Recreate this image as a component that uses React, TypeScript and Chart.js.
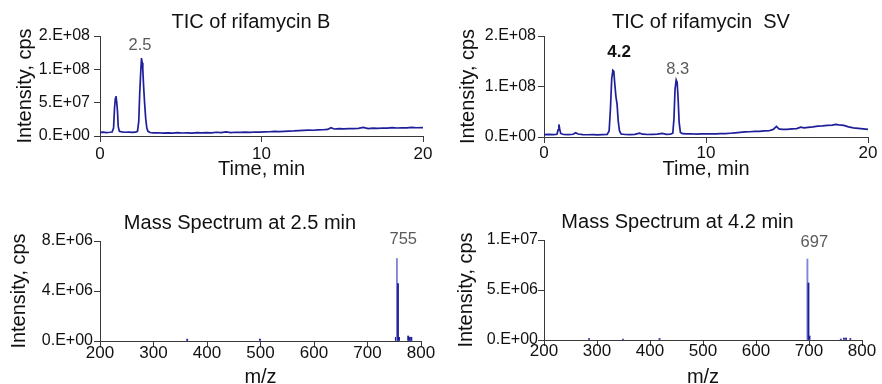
import React, { useEffect, useRef } from 'react';
import { Chart, registerables } from 'chart.js';

Chart.register(...registerables);

const FONT = "'Liberation Sans', Arial, Helvetica, sans-serif";
const TRACE = '#1f1f9a';
const TRACE_LIGHT = '#8086d6';
const AXIS = '#3a3a3a';
const TEXT = '#111111';
const NOTE_GRAY = '#5a5a5a';

// ---------- TIC of rifamycin B ----------
const ticBTime = [0, 0.2, 0.4, 0.6, 0.75, 0.84, 0.9, 0.95, 0.99, 1.03, 1.08, 1.13, 1.2, 1.35, 1.55, 1.8, 2.0, 2.2, 2.32, 2.4, 2.46, 2.52, 2.57, 2.61, 2.65, 2.7, 2.76, 2.83, 2.9, 2.97, 3.1, 3.3, 3.6, 3.9, 4.2, 4.5, 4.8, 5.1, 5.4, 5.7, 6.0, 6.3, 6.6, 6.9, 7.2, 7.5, 7.8, 8.1, 8.4, 8.7, 9.0, 9.3, 9.6, 9.9, 10.2, 10.5, 10.8, 11.1, 11.4, 11.7, 12.0, 12.3, 12.6, 12.9, 13.2, 13.5, 13.8, 14.1, 14.3, 14.5, 14.8, 15.1, 15.4, 15.7, 16.0, 16.3, 16.6, 16.9, 17.2, 17.5, 17.8, 18.1, 18.4, 18.7, 19.0, 19.3, 19.6, 20.0];
const ticBIntensity = [5.5e6, 5.8e6, 5.2e6, 5.6e6, 6.0e6, 1.2e7, 4.2e7, 5.6e7, 6.0e7, 5.2e7, 3.8e7, 1.4e7, 7.0e6, 6.2e6, 5.6e6, 5.8e6, 5.4e6, 5.7e6, 7.0e6, 2.2e7, 6.5e7, 9.5e7, 1.17e8, 1.1e8, 1.0e8, 7.5e7, 5.0e7, 2.6e7, 1.2e7, 7.0e6, 5.2e6, 4.6e6, 4.9e6, 4.4e6, 4.8e6, 4.3e6, 5.0e6, 4.5e6, 4.7e6, 4.4e6, 5.0e6, 4.6e6, 5.2e6, 4.8e6, 5.6e6, 5.0e6, 6.2e6, 5.2e6, 5.6e6, 5.4e6, 5.8e6, 5.5e6, 6.0e6, 5.8e6, 6.2e6, 6.4e6, 6.8e6, 6.6e6, 7.0e6, 7.4e6, 7.6e6, 8.0e6, 8.4e6, 8.8e6, 8.6e6, 9.2e6, 9.4e6, 9.8e6, 1.25e7, 1.05e7, 1.1e7, 1.08e7, 1.12e7, 1.1e7, 1.15e7, 1.3e7, 1.12e7, 1.18e7, 1.15e7, 1.2e7, 1.18e7, 1.25e7, 1.2e7, 1.24e7, 1.22e7, 1.28e7, 1.24e7, 1.25e7];
const ticBYTicks = [0, 5e7, 1e8, 1.5e8];
const ticBYLabels = ['0.E+00', '5.E+07', '1.E+08', '2.E+08'];
const ticBNotes = [{ text: '2.5', x: 2.48, y: 1.29e8 }];

// ---------- TIC of rifamycin SV ----------
const ticSVTime = [0, 0.3, 0.6, 0.8, 0.87, 0.92, 0.97, 1.03, 1.2, 1.5, 1.8, 1.95, 2.1, 2.4, 2.7, 3.0, 3.3, 3.6, 3.9, 4.02, 4.1, 4.18, 4.25, 4.31, 4.37, 4.44, 4.51, 4.58, 4.66, 4.76, 5.0, 5.3, 5.6, 5.9, 6.1, 6.4, 6.7, 7.0, 7.3, 7.55, 7.8, 7.95, 8.02, 8.09, 8.16, 8.22, 8.28, 8.34, 8.42, 8.55, 8.8, 9.1, 9.4, 9.7, 10.0, 10.3, 10.6, 10.9, 11.2, 11.5, 11.8, 12.1, 12.4, 12.7, 13.0, 13.3, 13.6, 13.9, 14.15, 14.35, 14.5, 14.7, 15.0, 15.3, 15.6, 15.85, 16.05, 16.3, 16.6, 16.9, 17.2, 17.5, 17.8, 18.0, 18.2, 18.5, 18.8, 19.1, 19.4, 19.7, 20.0];
const ticSVIntensity = [4.8e6, 5.0e6, 4.6e6, 5.5e6, 1.4e7, 2.5e7, 1.6e7, 7.0e6, 5.0e6, 4.6e6, 5.5e6, 8.5e6, 6.0e6, 4.8e6, 4.5e6, 4.6e6, 4.4e6, 4.7e6, 5.0e6, 1.2e7, 5.5e7, 1.15e8, 1.32e8, 1.3e8, 1.05e8, 8.0e7, 6.5e7, 3.2e7, 1.2e7, 6.0e6, 5.0e6, 4.8e6, 5.2e6, 7.5e6, 5.5e6, 5.0e6, 5.2e6, 5.6e6, 7.0e6, 5.4e6, 5.8e6, 7.5e6, 3.5e7, 9.5e7, 1.13e8, 1.08e8, 7.5e7, 3.0e7, 9.0e6, 6.5e6, 6.0e6, 6.4e6, 5.8e6, 6.2e6, 6.0e6, 6.4e6, 6.2e6, 6.8e6, 6.6e6, 7.4e6, 8.2e6, 9.2e6, 1.0e7, 1.04e7, 1.1e7, 1.12e7, 1.2e7, 1.24e7, 1.5e7, 2.1e7, 1.6e7, 1.5e7, 1.52e7, 1.6e7, 1.65e7, 1.95e7, 1.8e7, 1.9e7, 2.0e7, 2.15e7, 2.2e7, 2.3e7, 2.35e7, 2.5e7, 2.4e7, 2.3e7, 2.0e7, 1.8e7, 1.7e7, 1.6e7, 1.5e7];
const ticSVYTicks = [0, 1e8, 2e8];
const ticSVYLabels = ['0.E+00', '1.E+08', '2.E+08'];
const ticSVNotes = [
  { text: '4.2', x: 4.64, y: 1.577e8, bold: true },
  { text: '8.3', x: 8.26, y: 1.245e8 },
];

// ---------- Mass spectrum at 2.5 min ----------
const msBMz = [363, 499, 753, 755, 757, 759, 776, 779, 782];
const msBIntensity = [1.5e5, 1.5e5, 3.0e5, 6.6e6, 4.6e6, 3.0e5, 4.0e5, 3.0e5, 3.0e5];
const msBYTicks = [0, 4e6, 8e6];
const msBYLabels = ['0.E+00', '4.E+06', '8.E+06'];
const msBNotes = [{ text: '755', x: 766.8, y: 7.8e6 }];

// ---------- Mass spectrum at 4.2 min ----------
const msSVMz = [285, 349, 418, 697, 699, 701, 760, 766, 770, 778];
const msSVIntensity = [1.5e5, 1.0e5, 1.5e5, 8.1e6, 5.7e6, 4.0e5, 1.0e5, 2.0e5, 2.0e5, 1.5e5];
const msSVYTicks = [0, 5e6, 1e7];
const msSVYLabels = ['0.E+00', '5.E+06', '1.E+07'];
const msSVNotes = [{ text: '697', x: 710, y: 9.27e6 }];

// ---------- shared axes ----------
const timeTicks = [0, 10, 20];
const timeLabels = ['0', '10', '20'];
const mzTicks = [200, 300, 400, 500, 600, 700, 800];
const mzLabels = ['200', '300', '400', '500', '600', '700', '800'];

const W = 441;
const H = 192;

type Note = { text: string; x: number; y: number; bold?: boolean };
type Spec = {
  kind: 'line' | 'bar';
  left: number;
  top: number;
  xs: number[];
  ys: number[];
  barColors?: string[];
  xMin: number;
  xMax: number;
  xTicks: number[];
  xLabels: string[];
  yMax: number;
  yTicks: number[];
  yLabels: string[];
  title: string;
  titleX: number;
  titleY: number;
  xTitle: string;
  yTitle: string;
  area: { l: number; t: number; r: number; b: number };
  yTickPad: number;
  xTickPad: number;
  yTitlePad: number;
  xTitlePad: number;
  notes: Note[];
};

const msBColors = msBMz.map((m) => (m === 755 ? TRACE_LIGHT : TRACE));
const msSVColors = msSVMz.map((m) => (m === 697 ? TRACE_LIGHT : TRACE));

const specs: Spec[] = [
  {
    kind: 'line', left: 0, top: 0, xs: ticBTime, ys: ticBIntensity,
    xMin: 0, xMax: 20, xTicks: timeTicks, xLabels: timeLabels,
    yMax: 1.5e8, yTicks: ticBYTicks, yLabels: ticBYLabels,
    title: 'TIC of rifamycin B', titleX: 251, titleY: 28,
    xTitle: 'Time, min', yTitle: 'Intensity, cps',
    area: { l: 100, t: 36, r: 423, b: 136 },
    yTickPad: 4, xTickPad: 2, yTitlePad: 13, xTitlePad: 11,
    notes: ticBNotes,
  },
  {
    kind: 'line', left: 441, top: 0, xs: ticSVTime, ys: ticSVIntensity,
    xMin: 0, xMax: 20, xTicks: timeTicks, xLabels: timeLabels,
    yMax: 2e8, yTicks: ticSVYTicks, yLabels: ticSVYLabels,
    title: 'TIC of rifamycin  SV', titleX: 260, titleY: 28,
    xTitle: 'Time, min', yTitle: 'Intensity, cps',
    area: { l: 103, t: 36, r: 427, b: 137 },
    yTickPad: 2, xTickPad: 0, yTitlePad: 15.7, xTitlePad: 11,
    notes: ticSVNotes,
  },
  {
    kind: 'bar', left: 0, top: 192, xs: msBMz, ys: msBIntensity, barColors: msBColors,
    xMin: 200, xMax: 800, xTicks: mzTicks, xLabels: mzLabels,
    yMax: 8e6, yTicks: msBYTicks, yLabels: msBYLabels,
    title: 'Mass Spectrum at 2.5 min', titleX: 240, titleY: 36.7,
    xTitle: 'm/z', yTitle: 'Intensity, cps',
    area: { l: 100, t: 49, r: 421, b: 149 },
    yTickPad: 1, xTickPad: -4, yTitlePad: 7.7, xTitlePad: -5.3,
    notes: msBNotes,
  },
  {
    kind: 'bar', left: 441, top: 192, xs: msSVMz, ys: msSVIntensity, barColors: msSVColors,
    xMin: 200, xMax: 800, xTicks: mzTicks, xLabels: mzLabels,
    yMax: 1e7, yTicks: msSVYTicks, yLabels: msSVYLabels,
    title: 'Mass Spectrum at 4.2 min', titleX: 236.5, titleY: 35.7,
    xTitle: 'm/z', yTitle: 'Intensity, cps',
    area: { l: 103, t: 48, r: 421, b: 148 },
    yTickPad: 0, xTickPad: -5, yTitlePad: 13.3, xTitlePad: -5.3,
    notes: msSVNotes,
  },
];

function Panel({ spec }: { spec: Spec }) {
  const ref = useRef<HTMLCanvasElement | null>(null);

  useEffect(() => {
    if (!ref.current) return;
    const points = spec.xs.map((x, i) => ({ x, y: spec.ys[i] }));

    const textPlugin = {
      id: 'panelText',
      afterDraw(chart: any) {
        const ctx = chart.ctx as CanvasRenderingContext2D;
        ctx.save();
        ctx.textAlign = 'center';
        ctx.textBaseline = 'alphabetic';
        ctx.fillStyle = TEXT;
        ctx.font = `20px ${FONT}`;
        ctx.fillText(spec.title, spec.titleX, spec.titleY);
        const xs = chart.scales.x;
        const ys = chart.scales.y;
        spec.notes.forEach((n) => {
          ctx.font = `${n.bold ? 'bold 17px' : '16.5px'} ${FONT}`;
          ctx.fillStyle = n.bold ? TEXT : NOTE_GRAY;
          ctx.fillText(n.text, xs.getPixelForValue(n.x), ys.getPixelForValue(n.y));
        });
        ctx.restore();
      },
    };

    const dataset: any =
      spec.kind === 'line'
        ? {
            data: points,
            borderColor: TRACE,
            borderWidth: 1.7,
            pointRadius: 0,
            tension: 0,
            fill: false,
          }
        : {
            data: points,
            backgroundColor: spec.barColors,
            borderWidth: 0,
            barThickness: 1.2,
            grouped: false,
          };

    const chart = new Chart(ref.current, {
      type: spec.kind,
      data: { datasets: [dataset] },
      plugins: [textPlugin],
      options: {
        responsive: false,
        animation: false,
        devicePixelRatio: 1,
        events: [],
        layout: {
          padding: { left: 0, top: spec.area.t, right: W - spec.area.r, bottom: 0 },
        },
        plugins: {
          legend: { display: false },
          title: { display: false },
          tooltip: { enabled: false },
        },
        scales: {
          x: {
            type: 'linear',
            min: spec.xMin,
            max: spec.xMax,
            offset: false,
            afterFit: (s: any) => {
              s.height = H - spec.area.b;
            },
            afterBuildTicks: (s: any) => {
              s.ticks = spec.xTicks.map((v) => ({ value: v }));
            },
            ticks: {
              autoSkip: false,
              maxRotation: 0,
              color: TEXT,
              padding: spec.xTickPad,
              font: { family: FONT, size: 17 },
              callback: (_v: any, i: number) => spec.xLabels[i],
            },
            grid: {
              display: true,
              drawOnChartArea: false,
              drawTicks: true,
              tickLength: 6,
              color: AXIS,
              offset: false,
            },
            border: { display: true, color: AXIS, width: 1 },
            title: {
              display: true,
              text: spec.xTitle,
              color: TEXT,
              font: { family: FONT, size: 20 },
              padding: { top: 0, bottom: spec.xTitlePad },
            },
          },
          y: {
            type: 'linear',
            min: 0,
            max: spec.yMax,
            afterFit: (s: any) => {
              s.width = spec.area.l;
            },
            afterBuildTicks: (s: any) => {
              s.ticks = spec.yTicks.map((v) => ({ value: v }));
            },
            ticks: {
              autoSkip: false,
              color: TEXT,
              padding: spec.yTickPad,
              font: { family: FONT, size: 16 },
              callback: (_v: any, i: number) => spec.yLabels[i],
            },
            grid: {
              display: true,
              drawOnChartArea: false,
              drawTicks: true,
              tickLength: 6,
              color: AXIS,
            },
            border: { display: true, color: AXIS, width: 1 },
            title: {
              display: true,
              text: spec.yTitle,
              color: TEXT,
              font: { family: FONT, size: 20 },
              padding: { top: spec.yTitlePad, bottom: 0 },
            },
          },
        },
      } as any,
    });
    return () => chart.destroy();
  }, [spec]);

  return (
    <canvas
      ref={ref}
      width={W}
      height={H}
      style={{ position: 'absolute', left: spec.left, top: spec.top, width: W, height: H, display: 'block' }}
    />
  );
}

export default function App() {
  return (
    <div style={{ position: 'absolute', left: 0, top: 0, width: 882, height: 384, background: '#ffffff', overflow: 'hidden' }}>
      {specs.map((s, i) => (
        <Panel key={i} spec={s} />
      ))}
    </div>
  );
}
